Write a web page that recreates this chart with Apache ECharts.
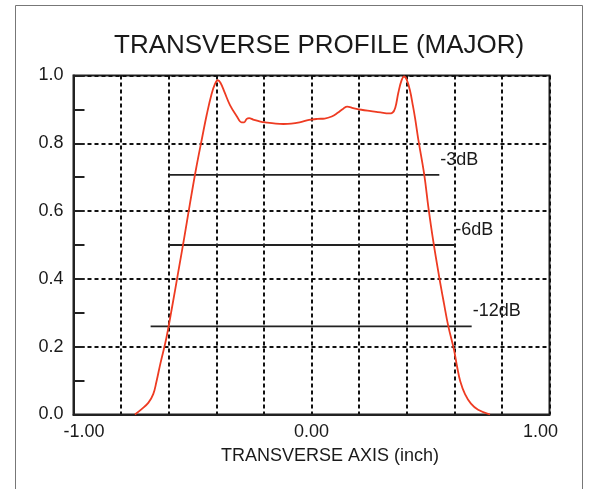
<!DOCTYPE html>
<html>
<head>
<meta charset="utf-8">
<title>Transverse Profile (Major)</title>
<script src="https://cdn.jsdelivr.net/npm/echarts@6/dist/echarts.min.js"></script>
<style>
  html, body { margin: 0; padding: 0; background: #fff; }
  #chart { width: 589px; height: 489px; }
</style>
</head>
<body>
<div id="chart"></div>
<script>
// beam profile (x in inch, y normalised)
const profileX = [-0.742, -0.715, -0.685, -0.665, -0.652, -0.635, -0.61, -0.585, -0.56, -0.535,
  -0.51, -0.485, -0.46, -0.44, -0.42, -0.405, -0.394, -0.382, -0.365, -0.342,
  -0.314, -0.294, -0.283, -0.272, -0.262, -0.245, -0.215, -0.188, -0.15, -0.118,
  -0.085, -0.05, -0.01, 0.025, 0.055, 0.085, 0.11, 0.135, 0.15, 0.175,
  0.21, 0.25, 0.29, 0.325, 0.34, 0.352, 0.365, 0.378, 0.389, 0.40,
  0.414, 0.425, 0.435, 0.449, 0.474, 0.491, 0.512, 0.537, 0.556, 0.575,
  0.599, 0.612, 0.625, 0.645, 0.67, 0.70, 0.75]
const profileY = [0, 0.015, 0.035, 0.06, 0.095, 0.15, 0.225, 0.32, 0.42, 0.52,
  0.625, 0.725, 0.815, 0.885, 0.945, 0.976, 0.986, 0.978, 0.950, 0.912,
  0.880, 0.862, 0.862, 0.872, 0.874, 0.870, 0.864, 0.861, 0.858, 0.857,
  0.858, 0.862, 0.869, 0.872, 0.873, 0.879, 0.89, 0.903, 0.908, 0.904,
  0.899, 0.895, 0.891, 0.888, 0.890, 0.905, 0.950, 0.985, 0.997, 0.988,
  0.955, 0.915, 0.875, 0.81, 0.706, 0.612, 0.51, 0.404, 0.33, 0.26,
  0.19, 0.14, 0.098, 0.06, 0.032, 0.014, 0]

// -3 / -6 / -12 dB width markers
const dbNames = ['-3dB', '-6dB', '-12dB']
const dbLevel = [0.707, 0.5, 0.26]
const dbStart = [-0.6, -0.6, -0.676]
const dbEnd = [0.537, 0.6, 0.673]

const xLabelsShown = [-1, 0, 1]

const chart = echarts.init(document.getElementById('chart'))

const font = '"Liberation Sans", Arial, Helvetica, sans-serif'
const ink = '#1a1a1a'

const dbSeries = []
dbNames.forEach((name, i) => {
  dbSeries.push({
    name: name,
    type: 'line',
    data: [[dbStart[i], dbLevel[i]], [dbEnd[i], dbLevel[i]]],
    symbol: 'none',
    lineStyle: { color: '#222', width: 1.8 },
    z: 3,
    silent: true,
  })
  dbSeries.push({
    name: name + ' label',
    type: 'scatter',
    data: [[dbEnd[i], dbLevel[i]]],
    symbolSize: 0,
    itemStyle: { opacity: 1 },
    label: {
      show: true,
      position: 'right',
      distance: 0,
      offset: [1, -15],
      formatter: name,
      color: ink,
      fontSize: 18,
      fontFamily: font,
    },
    silent: true,
  })
})

const option = {
  animation: false,
  backgroundColor: '#fff',
  title: {
    text: 'TRANSVERSE PROFILE (MAJOR)',
    left: 109,
    top: 28,
    textStyle: { color: ink, fontSize: 26, fontWeight: 'normal', fontFamily: font },
  },
  graphic: [
    {
      type: 'rect',
      shape: { x: 15.5, y: 5.5, width: 567, height: 500 },
      style: { fill: 'none', stroke: '#777', lineWidth: 1 },
      silent: true,
    },
  ],
  grid: {
    left: 73.5,
    right: 39.5,
    top: 75.5,
    bottom: 74.5,
    show: true,
    borderColor: '#222',
    borderWidth: 2,
    outerBoundsMode: 'none',
  },
  xAxis: {
    type: 'value',
    min: -1,
    max: 1,
    interval: 0.2,
    name: 'TRANSVERSE AXIS (inch)',
    nameLocation: 'middle',
    nameGap: 33,
    nameTextStyle: { color: ink, fontSize: 18, fontFamily: font, padding: [0, 0, 0, 37] },
    axisLine: { show: true, onZero: false, lineStyle: { color: '#222', width: 2 } },
    axisTick: { show: false },
    splitLine: { show: true, lineStyle: { color: '#111', width: 2, type: [4, 3] } },
    axisLabel: {
      color: ink,
      fontSize: 18,
      fontFamily: font,
      margin: 9,
      showMinLabel: true,
      showMaxLabel: true,
      formatter: (v) => {
        const hit = xLabelsShown.find((t) => Math.abs(t - v) < 1e-6)
        if (hit === undefined) return ''
        if (hit < 0) return '{lo|' + hit.toFixed(2) + '}'
        if (hit > 0) return '{hi|' + hit.toFixed(2) + '}'
        return Math.abs(hit).toFixed(2)
      },
      rich: {
        lo: { color: ink, fontSize: 18, fontFamily: font, padding: [0, 0, 0, 21] },
        hi: { color: ink, fontSize: 18, fontFamily: font, padding: [0, 18, 0, 0] },
      },
    },
  },
  yAxis: {
    type: 'value',
    min: 0,
    max: 1,
    interval: 0.2,
    axisLine: { show: true, onZero: false, lineStyle: { color: '#222', width: 2 } },
    axisTick: { show: true, inside: true, length: 11, lineStyle: { color: '#222', width: 2 } },
    minorTick: { show: true, splitNumber: 2, length: 11, lineStyle: { color: '#222', width: 2 } },
    splitLine: { show: true, lineStyle: { color: '#111', width: 2, type: [4, 3] } },
    axisLabel: {
      color: ink,
      fontSize: 18,
      fontFamily: font,
      margin: 10,
      formatter: (v) => v.toFixed(1),
    },
  },
  series: [
    {
      name: 'profile',
      type: 'line',
      data: profileX.map((x, i) => [x, profileY[i]]),
      smooth: 0.4,
      symbol: 'none',
      lineStyle: { color: '#ee3b22', width: 1.8 },
      z: 4,
      silent: true,
    },
    ...dbSeries,
  ],
}

chart.setOption(option)
</script>
</body>
</html>
